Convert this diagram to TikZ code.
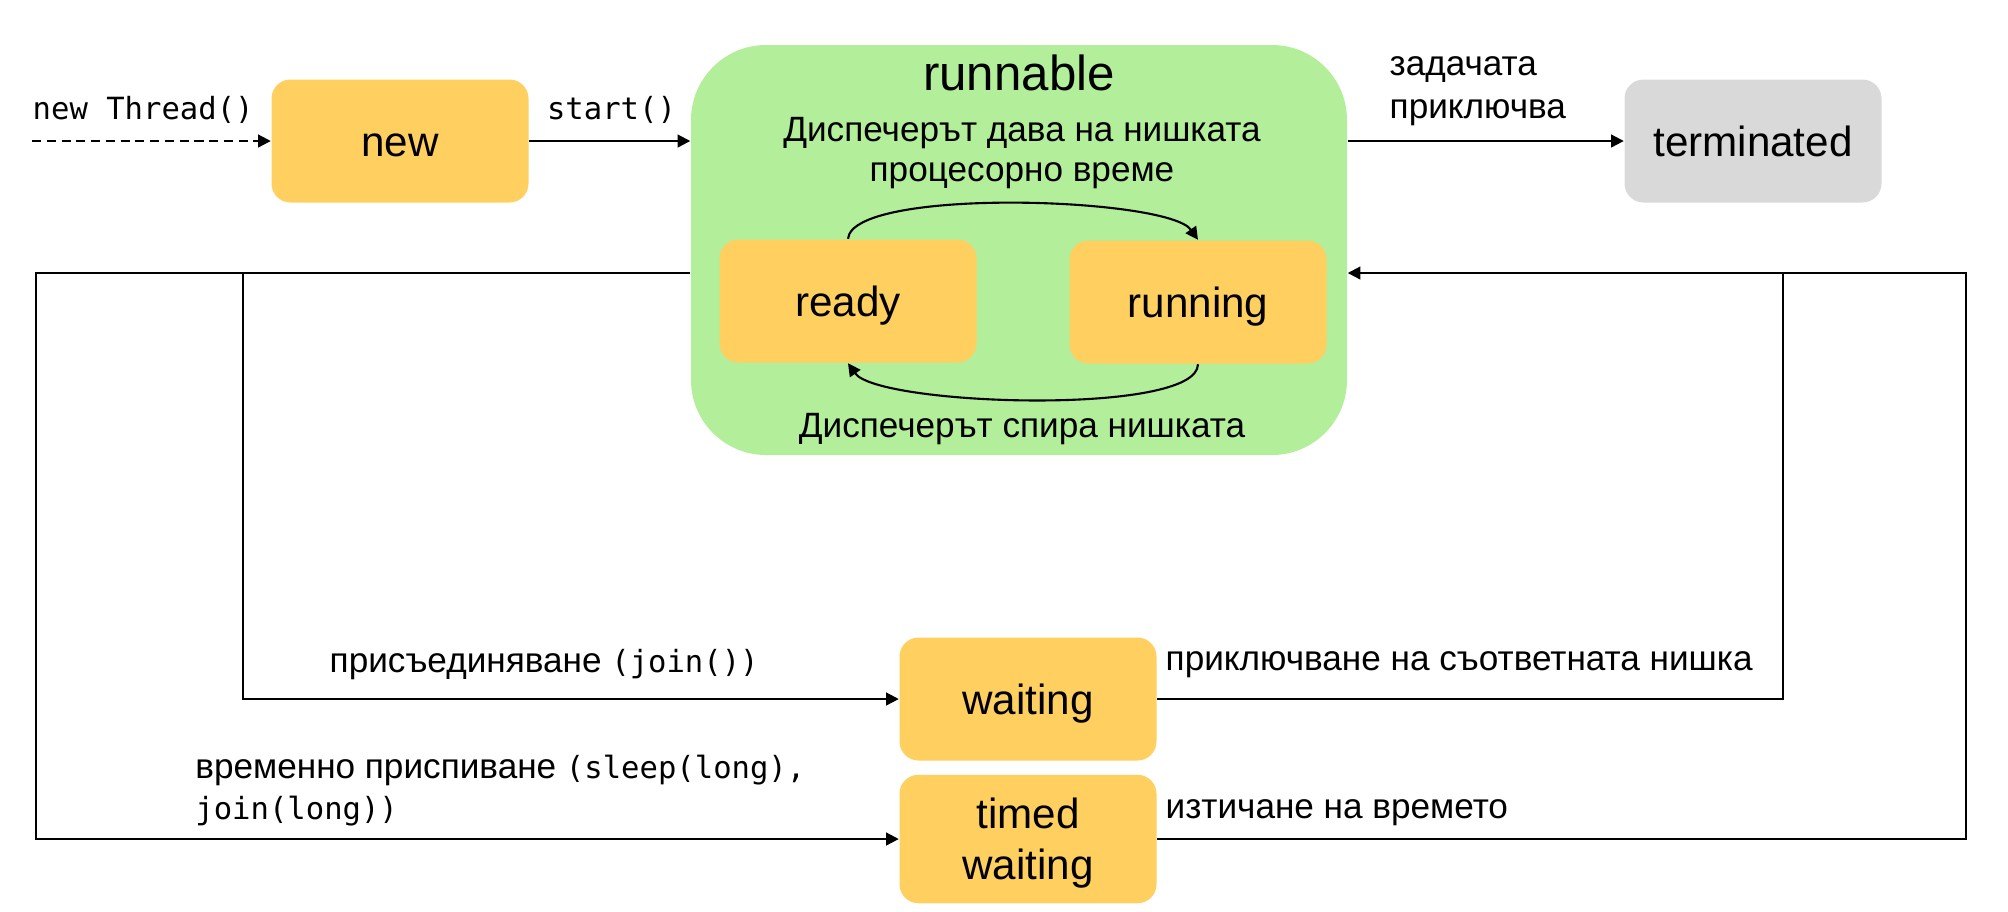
\documentclass[tikz,border=0pt]{standalone}
\usepackage{fontspec}
\setmainfont{Liberation Sans}
\setmonofont{DejaVu Sans Mono}
\usetikzlibrary{positioning, arrows.meta, calc}

\definecolor{stateorange}{HTML}{FFCF5F}
\definecolor{runnablegreen}{HTML}{B3EE9A}
\definecolor{endgray}{HTML}{D9D9D9}

\newcommand{\jcode}[1]{{\ttfamily\fontsize{8.7}{11}\selectfont #1}}

\begin{document}
\begin{tikzpicture}[
    >={Triangle[length=3.6pt, width=3.6pt]},
    state/.style={rectangle, rounded corners=0.19cm, fill=stateorange, minimum width=2.57cm, minimum height=1.23cm, text height=12pt, text depth=3.4pt, font=\fontsize{12}{14.5}\selectfont},
    lbl/.style={inner sep=0pt, font=\fontsize{10}{10.5}\selectfont},
    code/.style={inner sep=0pt, font=\ttfamily\fontsize{8.7}{11}\selectfont},
    flow/.style={->, line width=0.6pt}
]
    \useasboundingbox (0,0) rectangle (20.08,-9.11);

    % Nodes
    \node[state] (new) at (4.00,-1.41) {new};
    \node[rectangle, rounded corners=0.75cm, fill=runnablegreen, minimum width=6.56cm, minimum height=4.10cm] (runnable) at (10.19,-2.50) {};
    \node[state] (ready) at (8.48,-3.01) {ready};
    \node[state] (running) at (11.98,-3.02) {running};
    \node[state, fill=endgray] (terminated) at (17.53,-1.41) {terminated};
    \node[state] (waiting) at (10.28,-6.99) {waiting};
    \node[state, align=center, text height=26.5pt] (timed) at (10.28,-8.39) {timed\\waiting};

    % Texts inside runnable
    \node[inner sep=0pt, font=\fontsize{14}{16}\selectfont] (title) at (10.19,-0.73) {runnable};
    \node[lbl, align=center, font=\fontsize{10}{11.3}\selectfont] (grant) at (10.22,-1.53) {Диспечерът дава на нишката\\процесорно време};
    \node[lbl] (preempt) at (10.22,-4.29) {Диспечерът спира нишката};

    % Coordinates
    \coordinate (spawn) at (0.32,-1.41);
    \coordinate (outL) at ($(runnable.west)+(0,-0.23)$);
    \coordinate (inR) at ($(runnable.east)+(0,-0.23)$);
    \coordinate (farL) at (0.36,-2.73);
    \coordinate (midL) at (2.43,-2.73);
    \coordinate (midR) at (17.83,-2.73);
    \coordinate (farR) at (19.66,-2.73);

    % Connections
    \draw[flow, dash pattern=on 2.6pt off 1.6pt] (spawn) -- (new.west);
    \draw[flow] (new.east) -- (new.east -| runnable.west);
    \draw[flow] (new.east -| runnable.east) -- (terminated.west);
    \draw[flow] (ready.north) to[out=85, in=125, looseness=0.38] (running.north);
    \draw[flow] (running.south) to[out=-90, in=-55, looseness=0.38] (ready.south);

    % Waiting
    \draw[flow] (outL) -- (farL) |- (timed.west);
    \draw[flow] (midL) |- (waiting.west);
    \draw[flow] (timed.east) -| (farR) -- (inR);
    \draw[line width=0.6pt] (waiting.east) -| (midR);

    % Labels
    \node[code, anchor=west] (newlbl) at (0.32,-1.10) {new Thread()};
    \node[code] (startlbl) at (6.115,-1.10) {start()};
    \node[lbl, anchor=west, align=left, font=\fontsize{10}{12.4}\selectfont] (donelbl) at (13.89,-0.91) {задачата\\приключва};
    \node[lbl, anchor=west] (joinlbl) at (3.29,-6.65) {присъединяване \jcode{(join())}};
    \node[lbl, anchor=west, align=left, font=\fontsize{10}{11.6}\selectfont] (sleeplbl) at (1.947,-7.905) {временно приспиване \jcode{(sleep(long),}\\\jcode{join(long))}};
    \node[lbl, anchor=west] (joindonelbl) at (11.65,-6.65) {приключване на съответната нишка};
    \node[lbl, anchor=west] (timeoutlbl) at (11.65,-8.13) {изтичане на времето};

\end{tikzpicture}
\end{document}
